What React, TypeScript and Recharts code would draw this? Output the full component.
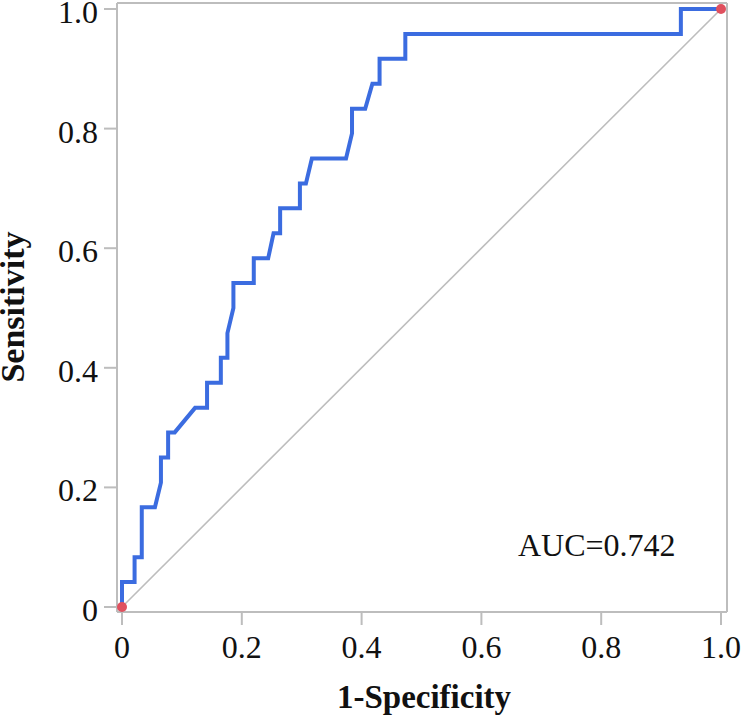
import {
  ComposedChart,
  Line,
  Scatter,
  XAxis,
  YAxis,
  ReferenceLine,
  Label,
} from 'recharts';

// ROC curve vertices (1-specificity, sensitivity)
const fpr = [
  0, 0, 0.021, 0.021, 0.033, 0.033, 0.055, 0.065, 0.065, 0.077, 0.077, 0.088,
  0.122, 0.142, 0.142, 0.165, 0.165, 0.176, 0.176, 0.186, 0.186, 0.22, 0.22,
  0.244, 0.253, 0.264, 0.264, 0.297, 0.297, 0.307, 0.317, 0.374, 0.384, 0.384,
  0.406, 0.418, 0.43, 0.43, 0.473, 0.473, 0.933, 0.933, 1,
];
const tpr = [
  0, 0.042, 0.042, 0.083, 0.083, 0.167, 0.167, 0.208, 0.25, 0.25, 0.292, 0.292,
  0.333, 0.333, 0.375, 0.375, 0.417, 0.417, 0.458, 0.5, 0.542, 0.542, 0.583,
  0.583, 0.625, 0.625, 0.667, 0.667, 0.708, 0.708, 0.75, 0.75, 0.792, 0.833,
  0.833, 0.875, 0.875, 0.917, 0.917, 0.958, 0.958, 1, 1,
];
const endX = [0, 1];
const endY = [0, 1];
const ticks = [0, 0.2, 0.4, 0.6, 0.8, 1];
const aucText = 'AUC=0.742';

const rocData = fpr.map((x, i) => ({ fpr: x, tpr: tpr[i] }));
const endData = endX.map((x, i) => ({ fpr: x, tpr: endY[i] }));

const FONT = '"Liberation Serif", "Times New Roman", serif';
const GREY = '#bdbdbd';
const fmt = (v: number) => (v === 0 ? '0' : v.toFixed(1));

const XTick = ({ x, y, payload }: any) => (
  <text x={x} y={y} dy={22} textAnchor="middle" fontFamily={FONT} fontSize={32} fill="#111">
    {fmt(payload.value)}
  </text>
);

const YTick = ({ x, y, payload }: any) => (
  <text x={x} y={y} dy={14} textAnchor="end" fontFamily={FONT} fontSize={32} fill="#111">
    {fmt(payload.value)}
  </text>
);

export default function App() {
  return (
    <div style={{ width: 744, height: 719, background: '#fff' }}>
      <style>{'body{margin:0}'}</style>
      <ComposedChart
        width={744}
        height={719}
        margin={{ top: 2, right: 16, bottom: 0, left: 0 }}
      >
        <XAxis
          dataKey="fpr"
          type="number"
          domain={[0, 1]}
          ticks={ticks}
          padding={{ left: 5, right: 6 }}
          height={107}
          stroke={GREY}
          strokeWidth={2}
          tickSize={13}
          tickMargin={11}
          tick={<XTick />}
        >
          <Label
            content={() => (
              <g fontFamily={FONT}>
                <text x={424} y={708} textAnchor="middle" fontSize={33} fontWeight="bold" fill="#111">
                  1-Specificity
                </text>
                <text x={518} y={556} fontSize={32} fill="#111">
                  {aucText}
                </text>
              </g>
            )}
          />
        </XAxis>
        <XAxis
          xAxisId="top"
          orientation="top"
          dataKey="fpr"
          type="number"
          domain={[0, 1]}
          padding={{ left: 5, right: 6 }}
          height={1}
          tick={false}
          tickLine={false}
          stroke={GREY}
          strokeWidth={2}
        />
        <YAxis
          dataKey="tpr"
          type="number"
          domain={[0, 1]}
          ticks={ticks}
          padding={{ top: 6, bottom: 5 }}
          width={117}
          stroke={GREY}
          strokeWidth={2}
          tickSize={13}
          tickMargin={6}
          tick={<YTick />}
        >
          <Label
            content={() => (
              <text
                x={24}
                y={307}
                transform="rotate(-90 24 307)"
                textAnchor="middle"
                fontFamily={FONT}
                fontSize={34}
                fontWeight="bold"
                fill="#111"
              >
                Sensitivity
              </text>
            )}
          />
        </YAxis>
        <YAxis
          yAxisId="right"
          orientation="right"
          dataKey="tpr"
          type="number"
          domain={[0, 1]}
          padding={{ top: 6, bottom: 5 }}
          width={1}
          tick={false}
          tickLine={false}
          stroke={GREY}
          strokeWidth={2}
        />
        <ReferenceLine
          segment={[
            { x: 0, y: 0 },
            { x: 1, y: 1 },
          ]}
          stroke={GREY}
          strokeWidth={1.6}
        />
        <Line
          data={rocData}
          dataKey="tpr"
          type="linear"
          stroke="#3b6ce0"
          strokeWidth={4}
          dot={false}
          activeDot={false}
          isAnimationActive={false}
        />
        <Scatter
          data={endData}
          dataKey="tpr"
          xAxisId="top"
          yAxisId="right"
          fill="#e0505e"
          isAnimationActive={false}
          shape={(p: any) => <circle cx={p.cx} cy={p.cy} r={5} fill="#e0505e" />}
        />
      </ComposedChart>
    </div>
  );
}
